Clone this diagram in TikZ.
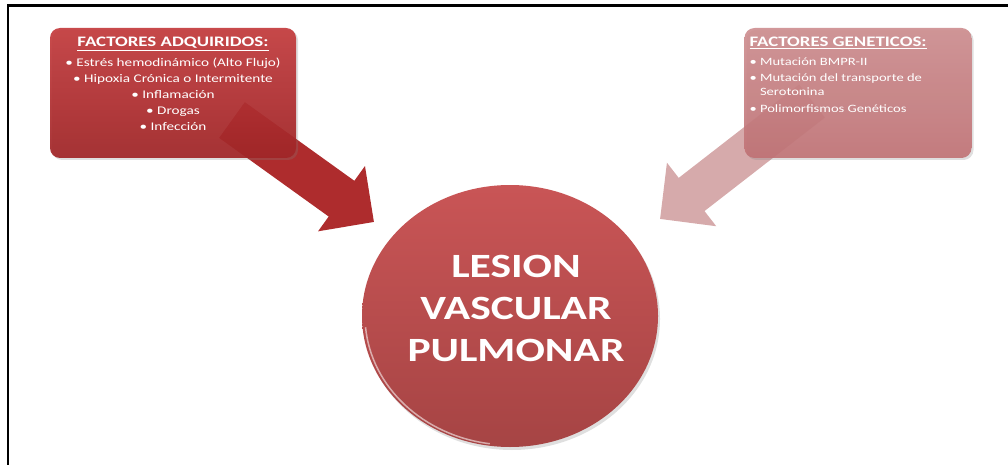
\documentclass[tikz,border=0pt]{standalone}
\usepackage{fontspec}
\setmainfont[FakeStretch=1.13]{Carlito}
\newfontfamily\boxfont[FakeStretch=1.3]{Carlito}
\newfontfamily\lesfont[FakeStretch=1.28]{Carlito}
\usepackage{tikz}
\usetikzlibrary{positioning, shapes.geometric, arrows.meta, shadows}

\definecolor{adqtop}{HTML}{C43B3D}
\definecolor{adqbot}{HTML}{A02426}
\definecolor{gentop}{HTML}{CD8D8F}
\definecolor{genbot}{HTML}{C07174}
\definecolor{lestop}{HTML}{C95556}
\definecolor{lesbot}{HTML}{A64444}
\definecolor{arrowdark}{HTML}{AE2C2D}
\definecolor{arrowlight}{HTML}{D6AAAB}

\begin{document}
\begin{tikzpicture}[x=1pt, y=-1pt,
    factorbox/.style={rounded corners=10pt, minimum width=246pt, minimum height=130pt,
        drop shadow={opacity=0.25, shadow xshift=2pt, shadow yshift=-2pt}},
    factortext/.style={text=white, inner sep=0pt, font=\boxfont\fontsize{11.7}{16}\selectfont},
    bigarrow/.style={line width=44pt, -{Triangle[length=40pt, width=78pt]}}]

    % --- PAGE SIZE & FRAME ---
    \useasboundingbox (0,0) rectangle (1008,465);
    \draw[line width=2.5pt] (8,465) -- (8,5.7) -- (1008,5.7);

    % --- ARROW END POINTS ---
    \coordinate (adqtail) at (232,120);
    \coordinate (adqtip)  at (374,222);
    \coordinate (gentail) at (812,101);
    \coordinate (gentip)  at (660,219);

    % --- BLOCK ARROWS (behind the boxes) ---
    \draw[bigarrow, arrowdark] (adqtail) -- (adqtip);
    \draw[bigarrow, arrowlight, line width=42pt] (gentail) -- (gentip);

    % --- LEFT BOX: acquired factors ---
    \node[factorbox, top color=adqtop, bottom color=adqbot, fill opacity=0.92] (adq) at (173,93) {};
    \node[factortext, align=center, below=9pt of adq.north] (adqtxt)
        {{\fontsize{14.5}{16}\selectfont\bfseries\underline{FACTORES ADQUIRIDOS:}}\\[4pt]
         \textbullet\ Estrés hemodinámico (Alto Flujo)\\
         \textbullet\ Hipoxia Crónica o Intermitente\\
         \textbullet\ Inflamación\\
         \textbullet\ Drogas\\
         \textbullet\ Infección};

    % --- RIGHT BOX: genetic factors ---
    \node[factorbox, minimum width=227pt, top color=gentop, bottom color=genbot, fill opacity=0.9] (gen) at (858,93) {};
    \node[factortext, align=left, font=\boxfont\fontsize{11.2}{14}\selectfont, below right=9pt and 5pt of gen.north west] (gentxt)
        {{\fontsize{14.5}{16}\selectfont\bfseries\underline{FACTORES GENETICOS:}}\\[5pt]
         \textbullet\ Mutación BMPR-II\\[2pt]
         \textbullet\ Mutación del transporte de\\
         \phantom{\textbullet\ }Serotonina\\[2.5pt]
         \textbullet\ Polimorfismos Genéticos};

    % --- CENTRAL ELLIPSE ---
    \node[ellipse, minimum width=296pt, minimum height=262pt, top color=lestop, bottom color=lesbot,
          drop shadow={opacity=0.25, shadow xshift=2pt, shadow yshift=-3pt}] (lesion) at (510,316) {};
    \draw[white, opacity=0.55, line width=1.5pt]
        ([shift={(185:145pt and 129pt)}]lesion.center) arc[start angle=185, end angle=262, x radius=145pt, y radius=129pt];
    \node[text=white, align=center, inner sep=0pt, font=\lesfont\fontsize{34}{42}\selectfont\bfseries]
        (lestxt) at ([xshift=6pt, yshift=8pt]lesion.center) {LESION\\VASCULAR\\PULMONAR};

\end{tikzpicture}
\end{document}
